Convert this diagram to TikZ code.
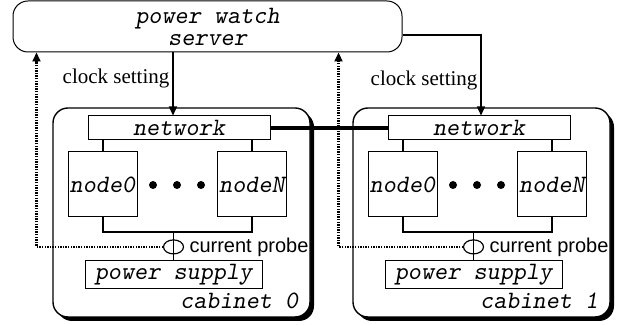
\documentclass[tikz,border=0pt]{standalone}
\usepackage{fontspec}
\setmainfont{Liberation Serif}
\setsansfont{Liberation Sans}
\usepackage{tikz}
\usetikzlibrary{shapes.geometric, arrows.meta, positioning, shadows}

\begin{document}
\begin{tikzpicture}[
  x=0.5pt, y=-0.5pt,
  mono/.style={font=\fontsize{12.5}{11}\selectfont\ttfamily\slshape},
  server/.style={draw, line width=0.5pt, rounded corners=7.5pt, align=center,
                 minimum width=194.5pt, minimum height=25.5pt, mono},
  cabinet/.style={draw, line width=0.7pt, rounded corners=7.5pt, fill=white,
                  minimum width=128.5pt, minimum height=104.5pt,
                  drop shadow={shadow xshift=2pt, shadow yshift=-2pt, opacity=1, fill=black}},
  box/.style={draw, line width=0.5pt, inner sep=0pt, mono},
  probe/.style={draw, ellipse, line width=0.6pt, inner sep=0pt,
                minimum width=10pt, minimum height=7pt},
  probetext/.style={font=\sffamily\fontsize{10}{12}\selectfont, inner sep=1pt},
  clk/.style={font=\fontsize{10.5}{12}\selectfont, inner sep=1.5pt},
  wire/.style={line width=1pt},
  link/.style={line width=2pt},
  arr/.style={-{Triangle[length=4.5pt, width=4pt]}, line width=0.6pt},
  probearr/.style={-{Triangle[length=4.5pt, width=4pt]}, line width=1.1pt,
                   dash pattern=on 0.7pt off 0.6pt}
]
  \useasboundingbox (0,0) rectangle (621,325);

  \node[server] (server) at (207.5,26.5) {power watch\\server};

  % one cabinet per rack
  \foreach \i/\dx in {0/0, 1/300} {
    \node[cabinet] (cab\i) at ({181.5+\dx},212.5) {};
    \node[box, minimum width=91pt, minimum height=12pt] (net\i) at ({179+\dx},128) {network};
    \node[box, minimum width=34.5pt, minimum height=32.5pt] (nda\i) at ({102.5+\dx},184.5) {node0};
    \node[box, minimum width=34.5pt, minimum height=32.5pt] (ndn\i) at ({252+\dx},184.5) {nodeN};
    \node[box, minimum width=88.5pt, minimum height=14pt] (psu\i) at ({173.5+\dx},275) {power supply};
    \coordinate (bus\i) at ({173.5+\dx},232);
    \foreach \d in {153,177,201}
      \fill ({\d+\dx},185) circle[radius=2pt];
    \draw[wire] (nda\i.north) -- (nda\i.north |- net\i.south);
    \draw[wire] (ndn\i.north) -- (ndn\i.north |- net\i.south);
    \draw[wire] (nda\i.south) |- (bus\i) -| (ndn\i.south);
    \draw[line width=0.7pt] (bus\i) -- (psu\i.north);
    \node[probe, above=3pt of psu\i] (prb\i) {};
    \node[probetext, right=1.5pt of prb\i] (prl\i) {current probe};
    \node[mono, anchor=south east, inner sep=2pt] (lbl\i)
      at ([xshift=-4pt, yshift=2.5pt]cab\i.south east) {cabinet \i};
  }

  % network between the cabinets
  \draw[link] (net0.east) -- (net1.west);

  % clock setting from the server
  \coordinate (clk0) at ([xshift=-3pt]net0.north);
  \coordinate (clk1) at ([xshift=1pt]net1.north);
  \draw[arr] (clk0 |- server.south) -- (clk0)
    node[clk, pos=0.42, left] {clock setting};
  \draw[arr] ([yshift=-4.25pt]server.east) -| (clk1)
    node[clk, pos=0.78, left] {clock setting};

  % probe readings back to the server
  \draw[probearr] (prb0.west) -| ([xshift=12pt]server.south west);
  \draw[probearr] (prb1.west) -| ([xshift=-32pt]server.south east);
\end{tikzpicture}
\end{document}
